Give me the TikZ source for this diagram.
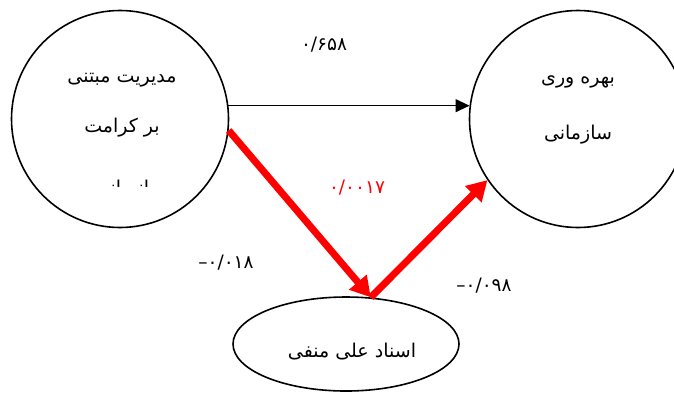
\documentclass[tikz,border=0pt]{standalone}
\usepackage{fontspec}
\setmainfont{DejaVu Sans}
\newfontfamily\fa[Script=Arabic]{DejaVu Sans}
\TeXXeTstate=1
\usetikzlibrary{arrows.meta,shapes.geometric}
\tikzset{
  bigcircle/.style={draw=black,line width=1.6pt,circle,minimum size=217pt,inner sep=0pt},
  bigellipse/.style={draw=black,line width=1.6pt,ellipse,minimum width=226pt,minimum height=94pt,inner sep=0pt},
  label/.style={font=\fa\fontsize{19}{22}\selectfont,inner sep=0pt},
  num/.style={font=\fa\fontsize{18.5}{21}\selectfont,inner sep=0pt},
  blackarrow/.style={draw=black,line width=1.2pt,-{Triangle[length=14pt,width=13pt]}},
  redarrow/.style={draw=red,line width=7pt,-{Triangle[length=20pt,width=22pt]}}
}
\begin{document}
\begin{tikzpicture}[x=1pt,y=-1pt]
\useasboundingbox (0,0) rectangle (674,392);
\node[bigcircle] (L) at (120,119) {};
\node[bigcircle] (R) at (578,119) {};
\node[bigellipse] (E) at (346,344) {};
\node[label] (l1) at (122,80) {\beginR مدیریت مبتنی\endR};
\node[label] (l2) at (122,128) {\beginR بر کرامت\endR};
\begin{scope}
\clip (60,170) rectangle (185,186);
\node[label,anchor=base] (l3) at (122,194) {\beginR انسانی\endR};
\end{scope}
\node[label] (r1) at (578,82) {\beginR بهره وری\endR};
\node[label] (r2) at (578,135) {\beginR سازمانی\endR};
\node[label] (e1) at (352,352) {\beginR اسناد علی منفی\endR};
\node[num] (n1) at (324,45) {۰/۶۵۸};
\node[num,text=red] (n2) at (357,188) {۰/۰۰۱۷};
\node[num] (n3) at (226,263) {\mbox{–}\mbox{۰/۰۱۸}};
\node[num] (n4) at (484,286) {\mbox{–}\mbox{۰/۰۹۸}};
\draw[blackarrow] (L.7) -- (R.173);
\draw[redarrow] (L.-6) -- (E.62);
\draw[redarrow] (E.62) -- (R.214);
\end{tikzpicture}
\end{document}
